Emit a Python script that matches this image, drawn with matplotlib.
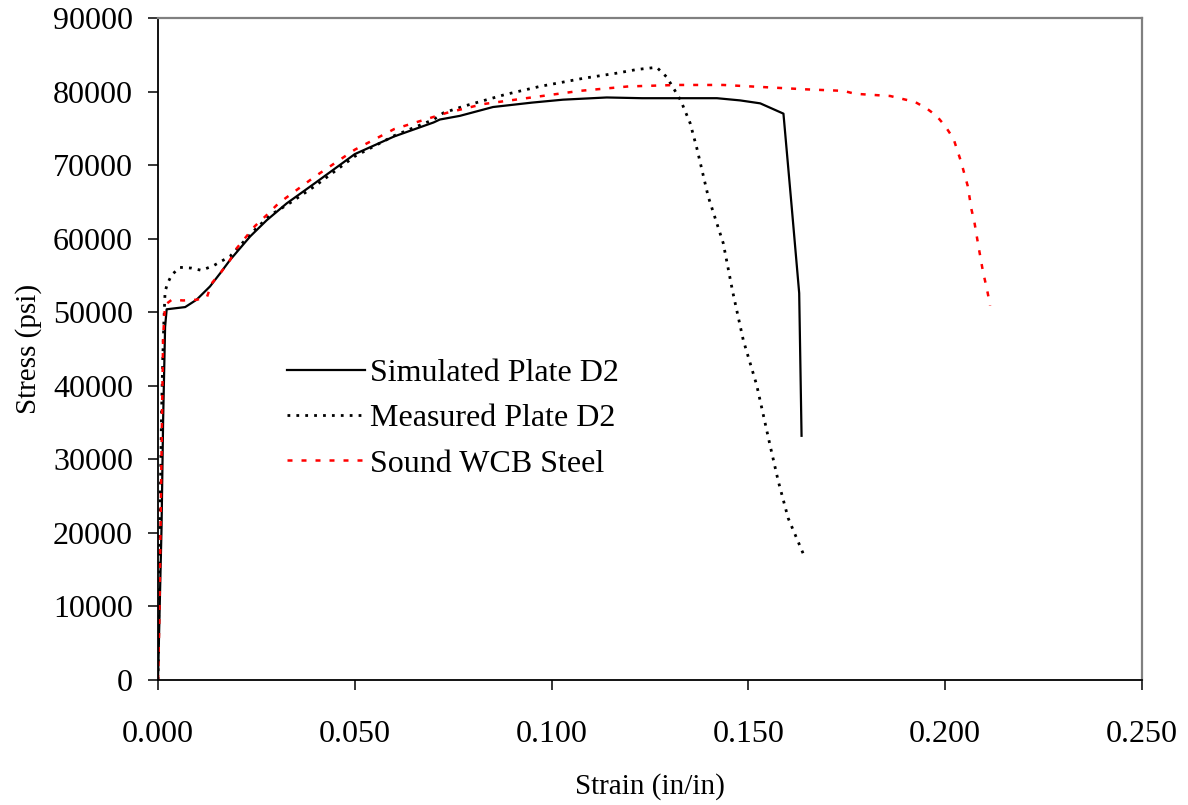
import matplotlib
matplotlib.use('Agg')
import matplotlib.pyplot as plt

plt.rcParams['font.family'] = ['Liberation Serif', 'DejaVu Serif']

# Simulated stress-strain curve, plate D2
sim_strain = [0.0, 0.0009, 0.0013, 0.0018, 0.0022, 0.0069, 0.0098, 0.0132, 0.0158, 0.0183,
              0.0234, 0.0276, 0.0327, 0.040, 0.050, 0.060, 0.070, 0.0716, 0.0767, 0.0851,
              0.0950, 0.1029, 0.114, 0.1230, 0.142, 0.1479, 0.153, 0.1589, 0.161, 0.1629, 0.1635]
sim_stress = [0, 20800, 35300, 48000, 50400, 50700, 51700, 53500, 55300, 57100,
              60300, 62500, 64800, 67600, 71500, 73900, 75800, 76200, 76700, 77900,
              78500, 78900, 79200, 79100, 79100, 78800, 78400, 77000, 64300, 52600, 33200]

# Measured stress-strain curve, plate D2
meas_strain = [0.0, 0.0004, 0.0009, 0.0012, 0.0015, 0.0018, 0.0024, 0.0035, 0.0056, 0.0085,
               0.011, 0.014, 0.0183, 0.0242, 0.0285, 0.0331, 0.040, 0.050, 0.060, 0.070,
               0.0725, 0.0776, 0.0882, 0.097, 0.108, 0.1165, 0.1216, 0.1267, 0.1292, 0.1307,
               0.1328, 0.1352, 0.1369, 0.1398, 0.1436, 0.146, 0.1487, 0.1521, 0.1555, 0.1576,
               0.1601, 0.1639]
meas_stress = [0, 18600, 36300, 43500, 48900, 52800, 53900, 55100, 56100, 56000,
               55700, 56300, 57600, 61000, 63200, 64700, 67200, 71200, 74000, 76200,
               77100, 78000, 79600, 80700, 81800, 82500, 83000, 83300, 82000, 80700,
               78800, 75700, 72300, 65700, 59400, 52800, 46200, 40100, 31900, 27000,
               22000, 17200]

# Sound WCB steel reference curve
wcb_strain = [0.0, 0.0003, 0.0013, 0.0018, 0.0035, 0.0064, 0.0098, 0.0124, 0.0136, 0.0161,
              0.0183, 0.020, 0.0246, 0.0276, 0.0306, 0.040, 0.050, 0.060, 0.0733, 0.0826,
              0.0949, 0.1072, 0.1195, 0.1318, 0.1436, 0.1648, 0.1741, 0.1771, 0.186, 0.1923,
              0.1953, 0.1978, 0.200, 0.2021, 0.204, 0.2057, 0.2067, 0.2074, 0.2084, 0.2095,
              0.2108, 0.2114]
wcb_stress = [0, 7200, 46700, 51000, 51700, 51600, 51700, 52000, 53900, 55500,
              57100, 58700, 61700, 63200, 64800, 68500, 72100, 74900, 77100, 78300,
              79200, 80100, 80700, 80900, 80900, 80300, 80100, 79700, 79400, 78600,
              77700, 76700, 75300, 73600, 70500, 67200, 63900, 62300, 59100, 55800,
              52600, 50900]

x_ticks = [0.0, 0.05, 0.10, 0.15, 0.20, 0.25]
y_ticks = list(range(0, 90001, 10000))

fig = plt.figure(figsize=(11.88, 8.05), dpi=100)
ax = fig.add_axes([0.133, 0.1553, 0.8283, 0.8223])

ax.plot(sim_strain, sim_stress, color='black', lw=1.6, solid_joinstyle='round',
        label='Simulated Plate D2')
ax.plot(meas_strain, meas_stress, color='black', lw=2.0, linestyle=(0, (1, 2.2)),
        label='Measured Plate D2')
ax.plot(wcb_strain, wcb_stress, color='red', lw=1.8, linestyle=(0, (2, 3.6)),
        label='Sound WCB Steel')

ax.set_xlim(0, 0.25)
ax.set_ylim(0, 90000)
ax.set_xticks(x_ticks)
ax.set_xticklabels([f'{v:.3f}' for v in x_ticks])
ax.set_yticks(y_ticks)
ax.set_yticklabels([str(v) for v in y_ticks])
ax.tick_params(axis='both', direction='out', length=7, width=1.1, labelsize=23,
               color='black')
ax.tick_params(axis='x', pad=22)
ax.tick_params(axis='y', pad=11)

for side in ['left', 'bottom']:
    ax.spines[side].set_color('black')
    ax.spines[side].set_linewidth(1.3)
for side in ['top', 'right']:
    ax.spines[side].set_color('#808080')
    ax.spines[side].set_linewidth(1.6)

ax.set_xlabel('Strain (in/in)', fontsize=21, labelpad=17)
ax.set_ylabel('Stress (psi)', fontsize=21, labelpad=8)

ax.legend(loc='upper left', bbox_to_anchor=(0.118, 0.505), frameon=False,
          fontsize=23, handlelength=2.45, handletextpad=0.15, labelspacing=0.5,
          borderaxespad=0)

fig.savefig('out.png', dpi=100, facecolor='white')
